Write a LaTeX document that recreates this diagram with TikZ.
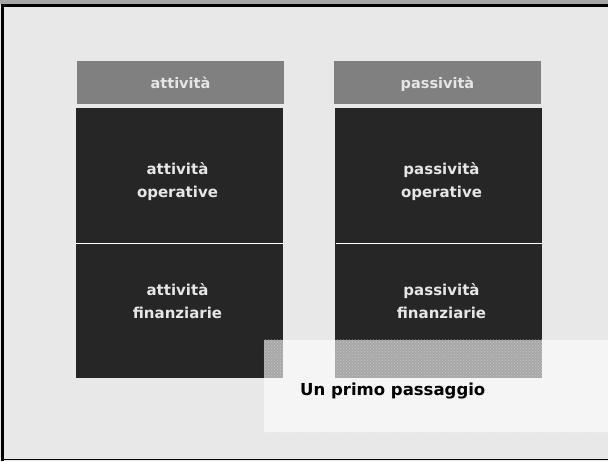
\documentclass[tikz,border=0pt]{standalone}
\usepackage{fontspec}
\setmainfont{DejaVu Sans}
\usetikzlibrary{patterns,calc}
\definecolor{bgc}{HTML}{E8E8E8}
\definecolor{hdrc}{HTML}{808080}
\definecolor{darkc}{HTML}{262626}
\definecolor{wtxt}{HTML}{E6E6E6}
\tikzset{
  hdrbox/.style={draw=none,fill=hdrc,minimum width=207pt,minimum height=43pt,inner sep=0pt,
    text height=14pt,text depth=3pt,
    text=wtxt,font=\fontsize{14.5}{18}\selectfont\bfseries},
  darkbox/.style={draw=none,fill=darkc,minimum width=207pt,minimum height=135pt,inner sep=0pt},
  wlabel/.style={text=wtxt,align=center,font=\fontsize{15}{23}\selectfont\bfseries},
  veil/.style={draw=none,fill=white,fill opacity=0.6,minimum width=346pt,minimum height=92pt,inner sep=0pt},
}
\begin{document}
\begin{tikzpicture}[x=1pt,y=-1pt]
\useasboundingbox (0,0) rectangle (608,461);
\fill[bgc] (0,0) rectangle (608,461);
\fill[black!35] (0,0) rectangle (608,4);
\draw[black,line width=3pt] (2.5,461) -- (2.5,5.5) -- (608,5.5);
\draw[black,line width=1.5pt] (2.5,459.5) -- (608,459.5);
% headers
\node[hdrbox] (hA) at (180.5,82.5) {attività};
\node[hdrbox] (hP) at (437.5,82.5) {passività};
% dark boxes
\node[darkbox] (opA) at (179.5,175.5) {};
\node[darkbox] (finA) at (179.5,310.5) {};
\node[darkbox] (opP) at (438,175.5) {};
\node[darkbox] (finP) at (438,310.5) {};
\draw[white,line width=1pt] (opA.south west) -- (opA.south east);
\draw[white,line width=1pt] ([xshift=2pt]opP.south west) -- ([xshift=1pt]opP.south east);
% labels
\node[wlabel] (opAt) at (177.5,181.5) {attività\\operative};
\node[wlabel] (finAt) at (177.5,301.5) {attività\\finanziarie};
\node[wlabel] (opPt) at (441.5,181.5) {passività\\operative};
\node[wlabel] (finPt) at (441.5,301.5) {passività\\finanziarie};
% overlay
\node[veil] (ov) at (437,386) {};
\fill[pattern=crosshatch dots,pattern color=white,opacity=0.35] (ov.north west) rectangle (ov.south east);
\node[anchor=west,inner sep=0pt,text=black,font=\fontsize{16.5}{20}\selectfont\bfseries] (ovt) at (300,391.5) {Un primo passaggio};
\end{tikzpicture}
\end{document}
